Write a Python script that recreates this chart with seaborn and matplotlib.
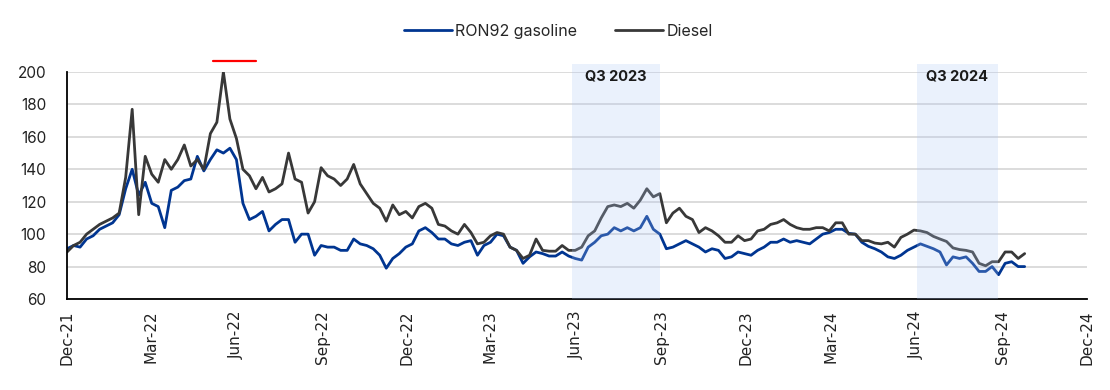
import numpy as np
import pandas as pd
import matplotlib
matplotlib.use("Agg")
import matplotlib.pyplot as plt
import matplotlib.dates as mdates
import seaborn as sns

# weekly price index
gasoline = [91, 93, 92, 97, 99, 103, 105, 107, 112, 128,
            140, 124, 132, 119, 117, 104, 127, 129, 133, 134,
            148, 139, 146, 152, 150, 153, 146, 119, 109, 111,
            114, 102, 106, 109, 109, 95, 100, 100, 87, 93,
            92, 92, 90, 90, 97, 94, 93, 91, 87, 79,
            85, 88, 92, 94, 102, 104, 101, 97, 97, 94,
            93, 95, 96, 87, 93, 95, 100, 99, 92, 90,
            82, 86, 89, 88, 86.5, 86.5, 89, 86.5, 85, 84,
            92, 95, 99, 100, 104, 102, 104, 102, 104, 111,
            103, 100, 91, 92, 94, 96, 94, 92, 89, 91,
            90, 85, 86, 89, 88, 87, 90, 92, 95, 95,
            97, 95, 96, 95, 94, 97, 100, 101, 103, 103,
            100.5, 100, 95, 92.5, 91, 89, 86, 85, 87, 90,
            92, 94, 92.5, 91, 89, 81, 86, 85, 86, 82,
            77, 77, 80, 75, 82, 83, 80, 80]

diesel = [89, 93, 95, 100, 103, 106, 108, 110, 113, 135,
          177, 112, 148, 137, 132, 146, 140, 146, 155, 142,
          146, 140, 162, 169, 200, 171, 159, 140, 136, 128,
          135, 126, 128, 131, 150, 134, 132, 113, 120, 141,
          136, 134, 130, 134, 143, 131, 125, 119, 116, 108,
          118, 112, 114, 110, 117, 119, 116, 106, 105, 102,
          100, 106, 101, 94, 95, 99, 101, 100, 92, 90,
          85, 87, 97, 90, 89.5, 89.5, 93, 90, 90, 92,
          99, 102, 110, 117, 118, 117, 119, 116, 121, 128,
          123, 125, 107, 113, 116, 111, 109, 101, 104, 102,
          99, 95, 95, 99, 96, 97, 102, 103, 106, 107,
          109, 106, 104, 103, 103, 104, 104, 102, 107, 107,
          100, 100, 96, 96, 94.5, 94, 95, 92, 98, 100,
          102.5, 102, 101, 98.6, 97, 95.5, 91.5, 90.5, 90, 89,
          82, 80.5, 83, 83, 89, 89, 85, 88]

dates = pd.date_range("2021-12-01", periods=len(gasoline), freq="7D")
series_names = ["RON92 gasoline", "Diesel"]
colors = ["#003591", "#383838"]

quarters = ["Q3 2023", "Q3 2024"]
q_start = pd.to_datetime(["2023-05-28", "2024-06-01"])
q_end = pd.to_datetime(["2023-08-30", "2024-08-27"])

marker_dates = pd.to_datetime(["2022-05-07", "2022-06-22"])
marker_level = 207

df = pd.DataFrame({
    "date": np.concatenate([dates, dates]),
    "value": gasoline + diesel,
    "series": [series_names[0]] * len(gasoline) + [series_names[1]] * len(diesel),
})

sns.set_theme(style="white")
plt.rcParams["font.family"] = ["Inter", "DejaVu Sans"]

fig = plt.figure(figsize=(11.1, 3.9), dpi=100)
ax = fig.add_axes([0.0604, 0.2333, 0.9189, 0.5821])

sns.lineplot(data=df, x="date", y="value", hue="series", palette=colors,
             linewidth=2.0, ax=ax, legend=False)

# shaded quarters sit on top of the lines
for lab, s, e in zip(quarters, q_start, q_end):
    ax.axvspan(s, e, ymin=0, ymax=1.035, color="#adc8f7", alpha=0.25,
               lw=0, zorder=5, clip_on=False)
    ax.text(s + (e - s) / 2, 197.5, lab, ha="center", va="center",
            fontsize=10.5, fontweight="bold", color="#1a1a1a", zorder=6)

ax.plot(marker_dates, [marker_level] * 2, color="#ff0000", lw=1.6,
        clip_on=False, zorder=6)

ax.set_xlim(pd.Timestamp("2021-12-01"), pd.Timestamp("2024-12-01"))
ax.set_ylim(60, 200)
ax.set_yticks(range(60, 201, 20))
ax.xaxis.set_major_locator(mdates.MonthLocator(bymonth=[3, 6, 9, 12]))
ax.xaxis.set_major_formatter(mdates.DateFormatter("%b-%y"))
ax.set_xlabel("")
ax.set_ylabel("")

ax.grid(axis="y", color="#d9d9d9", lw=1.3)
ax.set_axisbelow(True)
for side in ["top", "right"]:
    ax.spines[side].set_visible(False)
for side in ["left", "bottom"]:
    ax.spines[side].set_color("black")
    ax.spines[side].set_linewidth(1.3)

ax.tick_params(axis="y", length=0, pad=15, labelsize=11, labelcolor="#222222")
ax.tick_params(axis="x", length=4, width=1.2, color="black", direction="out",
               pad=4, labelsize=11, labelcolor="#222222", rotation=90)
for t in ax.get_xticklabels():
    t.set_family("DejaVu Sans")

handles = [plt.Line2D([], [], color=c, lw=2) for c in colors]
fig.legend(handles, series_names, loc="center", bbox_to_anchor=(0.503, 0.92),
           ncol=2, frameon=False, fontsize=11.5, handlelength=3.0,
           handletextpad=0.2, columnspacing=2.4)

fig.savefig("out.png", dpi=100)
